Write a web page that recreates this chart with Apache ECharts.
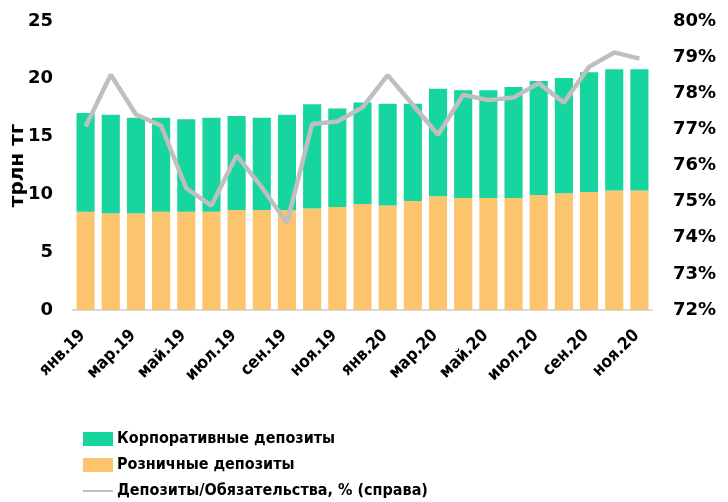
<!DOCTYPE html>
<html>
<head>
<meta charset="utf-8">
<script src="https://cdn.jsdelivr.net/npm/echarts@6/dist/echarts.min.js"></script>
<style>
html,body{margin:0;padding:0;background:#fff;}
#c{width:728px;height:502px;}
</style>
</head>
<body>
<div id="c"></div>
<script>
var categories = ['янв.19','фев.19','мар.19','апр.19','май.19','июн.19','июл.19','авг.19','сен.19','окт.19','ноя.19','дек.19',
                  'янв.20','фев.20','мар.20','апр.20','май.20','июн.20','июл.20','авг.20','сен.20','окт.20','ноя.20'];
var retailDeposits = [8.50, 8.36, 8.36, 8.50, 8.50, 8.50, 8.65, 8.65, 8.65, 8.79, 8.90, 9.16,
                      9.05, 9.43, 9.83, 9.68, 9.68, 9.68, 9.94, 10.09, 10.20, 10.34, 10.34];
var corporateDeposits = [8.54, 8.54, 8.28, 8.14, 8.00, 8.14, 8.13, 7.99, 8.25, 9.01, 8.54, 8.80,
                         8.79, 8.41, 9.31, 9.34, 9.34, 9.60, 9.86, 9.97, 10.37, 10.49, 10.49];
var depositsToLiabilities = [77.08, 78.51, 77.41, 77.10, 75.37, 74.89, 76.28, 75.40, 74.41, 77.15, 77.22, 77.61,
                             78.50, 77.68, 76.85, 77.96, 77.81, 77.88, 78.28, 77.74, 78.73, 79.13, 78.96];
var leftTicks = {min: 0, max: 25, interval: 5};
var rightTicks = {min: 72, max: 80, interval: 1};

var FONT = 'DejaVu Sans';
var chart = echarts.init(document.getElementById('c'));
chart.setOption({
  animation: false,
  textStyle: {fontFamily: FONT},
  grid: {left: 73, right: 76, top: 21, bottom: 192, containLabel: false, outerBoundsMode: 'none'},
  legend: {
    orient: 'vertical',
    left: 77, top: 426, height: 120,
    itemWidth: 30, itemHeight: 14, itemGap: 10,
    textStyle: {fontFamily: 'DejaVu Sans Condensed', fontWeight: 'bold', fontSize: 16, color: '#000', padding: [0,0,0,-1]},
    data: [
      {name: 'Корпоративные депозиты', icon: 'rect'},
      {name: 'Розничные депозиты', icon: 'rect'},
      {name: 'Депозиты/Обязательства, % (справа)', itemStyle: {opacity: 0}}
    ]
  },
  xAxis: {
    type: 'category',
    data: categories,
    axisLine: {lineStyle: {color: '#d9d9d9', width: 2}},
    axisTick: {show: false},
    axisLabel: {interval: 1, rotate: 45, margin: 20, padding: [0, 4, 0, 0], color: '#000', fontWeight: 'bold', fontSize: 17, fontFamily: 'DejaVu Sans Condensed'}
  },
  yAxis: [
    {
      type: 'value', min: leftTicks.min, max: leftTicks.max, interval: leftTicks.interval,
      name: 'трлн тг', nameLocation: 'middle', nameGap: 45, nameRotate: 90, nameMoveOverlap: false,
      nameTextStyle: {fontWeight: 'bold', fontSize: 20, color: '#000', fontFamily: FONT},
      splitLine: {show: false}, axisLine: {show: false}, axisTick: {show: false},
      axisLabel: {margin: 20, color: '#000', fontWeight: 'bold', fontSize: 18, fontFamily: FONT}
    },
    {
      type: 'value', min: rightTicks.min, max: rightTicks.max, interval: rightTicks.interval,
      position: 'right',
      splitLine: {show: false}, axisLine: {show: false}, axisTick: {show: false},
      axisLabel: {margin: 21, color: '#000', fontWeight: 'bold', fontSize: 18, fontFamily: FONT, formatter: '{value}%'}
    }
  ],
  series: [
    {
      name: 'Розничные депозиты', type: 'bar', stack: 'dep', data: retailDeposits,
      barCategoryGap: '28%', itemStyle: {color: '#FDC46E'}
    },
    {
      name: 'Корпоративные депозиты', type: 'bar', stack: 'dep', data: corporateDeposits,
      barCategoryGap: '28%', itemStyle: {color: '#17D59F'}
    },
    {
      name: 'Депозиты/Обязательства, % (справа)', type: 'line', yAxisIndex: 1, data: depositsToLiabilities,
      symbol: 'none', lineStyle: {color: '#BFBFBF', width: 4.5}, itemStyle: {color: '#BFBFBF'}
    }
  ]
});
</script>
</body>
</html>
